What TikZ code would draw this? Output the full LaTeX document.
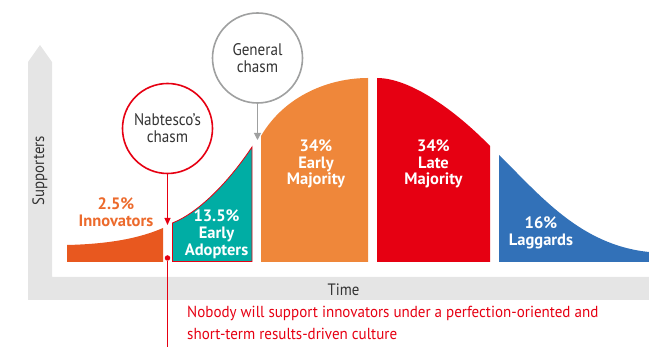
\documentclass[tikz,border=0pt]{standalone}
\usepackage{fontspec}
\setmainfont{PT Sans}
\newfontfamily\narrowfont[FakeStretch=0.9]{PT Sans}
\newfontfamily\notefont[FakeStretch=0.94]{PT Sans}
\usetikzlibrary{arrows.meta}

\definecolor{axisgray}{HTML}{E5E5E5}
\definecolor{textdark}{HTML}{333333}
\definecolor{innovfill}{HTML}{E8581F}
\definecolor{innovtext}{HTML}{EC6A2C}
\definecolor{adoptfill}{HTML}{00ADA4}
\definecolor{earlyfill}{HTML}{EF873A}
\definecolor{latefill}{HTML}{E60012}
\definecolor{lagfill}{HTML}{3271B8}
\definecolor{chasmred}{HTML}{E60012}
\definecolor{chasmgray}{HTML}{9FA0A0}

\begin{document}
\begin{tikzpicture}[x=1pt,y=-1pt,
  seglabel/.style={text=white,font=\fontsize{16.5}{16.8}\selectfont\bfseries,
    align=center,inner sep=0pt},
  bubble/.style={circle,minimum size=90pt,inner sep=0pt,line width=1.6pt,
    fill=white,align=center,text=textdark,
    font=\narrowfont\fontsize{16.8}{16.8}\selectfont},
  axislabel/.style={text=textdark,font=\narrowfont\fontsize{16.5}{18}\selectfont,inner sep=0pt},
  pointer/.style={line width=1pt},
]
\useasboundingbox (0,0) rectangle (649,347);

% axes: one grey L-shaped band with an arrow head on top
\fill[axisgray] (28,300) -- (28,62) -- (40,45) -- (52,62) -- (52,277)
  -- (649,277) -- (649,300) -- cycle;
\node[axislabel,rotate=90] (yl) at (40,170.5) {Supporters};
\node[axislabel] (xl) at (343.5,290) {Time};

% adoption curve, split into its five groups
\fill[innovfill] (67,262) -- (67,245) .. controls (110,244) and (140,238) .. (163,228)
  -- (163,262) -- cycle;
\filldraw[fill=adoptfill,draw=chasmred,line width=0.8pt]
  (172.4,261.6) -- (172.4,223) .. controls (200,212) and (230,180) .. (252,147)
  -- (252,261.6) -- cycle;
\fill[earlyfill] (261,262) -- (261,136) .. controls (285,95) and (330,78) .. (368,78)
  -- (368,262) -- cycle;
\fill[latefill] (377,262) -- (377,78) .. controls (410,78) and (455,110) .. (490,146)
  -- (490,262) -- cycle;
\fill[lagfill] (499,262) -- (499,155) .. controls (540,195) and (580,245) .. (649,252)
  -- (649,262) -- cycle;

% group labels
\node[seglabel,text=innovtext] (innov) at (116,212) {2.5\%\\Innovators};
\node[seglabel] (adopt) at (216.5,234.5) {13.5\%\\Early\\Adopters};
\node[seglabel] (early) at (316,164) {34\%\\Early\\Majority};
\node[seglabel] (late) at (433.5,164) {34\%\\Late\\Majority};
\node[seglabel] (lag) at (541,232.5) {16\%\\Laggards};

% chasm markers
\node[bubble,draw=chasmgray] (gen) at (257.5,58) {General\\chasm};
\coordinate (gentip) at (257.5,140);
\draw[pointer,chasmgray,-{Triangle[width=7pt,length=7pt]}] (gen.south) -- (gentip);

\node[bubble,draw=chasmred] (nab) at (167.5,128.5) {Nabtesco’s\\chasm};
\coordinate (nabtip) at (167.5,225);
\draw[pointer,chasmred,-{Triangle[width=6pt,length=7pt]}] (nab.south) -- (nabtip);

\node[circle,fill=chasmred,minimum size=5.5pt,inner sep=0pt] (dot) at (167.5,258) {};
\coordinate (linebot) at (167.5,347);
\draw[pointer,chasmred] (dot) -- (linebot);

\node[anchor=north west,text=chasmred,align=left,inner sep=0pt,
  font=\notefont\fontsize{16}{21.5}\selectfont] (note) at (187,306)
  {Nobody will support innovators under a perfection-oriented and\\
   short-term results-driven culture};
\end{tikzpicture}
\end{document}
